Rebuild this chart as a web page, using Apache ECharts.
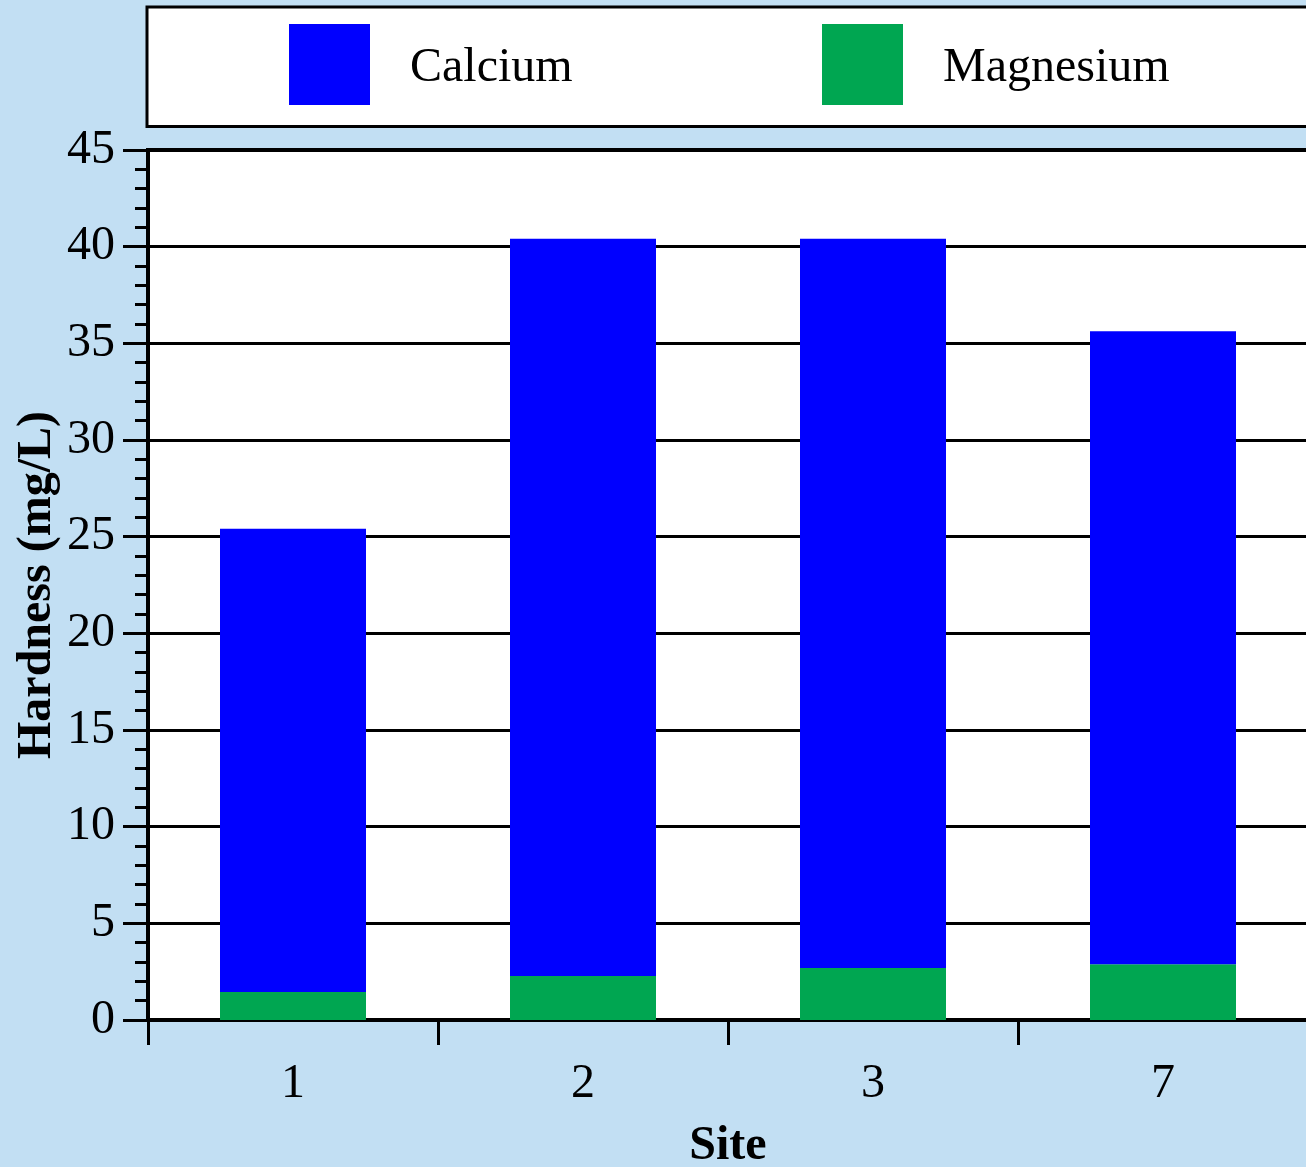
<!DOCTYPE html>
<html>
<head>
<meta charset="utf-8">
<script src="https://cdn.jsdelivr.net/npm/echarts@6/dist/echarts.min.js"></script>
<style>
html,body{margin:0;padding:0;background:#c2dff3;}
#chart{width:1306px;height:1167px;}
</style>
</head>
<body>
<div id="chart"></div>
<script>
const sites = ['1', '2', '3', '7'];
const calcium = [23.96, 38.14, 37.72, 32.73];
const magnesium = [1.45, 2.27, 2.69, 2.89];
const yMin = 0, yMax = 45, yInterval = 5;

const FONT = '"Liberation Serif", "Times New Roman", serif';
const legendText = {
  fontFamily: FONT, fontSize: 48, color: '#000',
  rich: { t: { fontFamily: FONT, fontSize: 48, color: '#000', padding: [8, 0, 0, 35] } }
};
const chart = echarts.init(document.getElementById('chart'));
chart.setOption({
  backgroundColor: '#c2dff3',
  animation: false,
  graphic: [{
    type: 'rect',
    z: 0,
    shape: { x: 147, y: 7, width: 1250, height: 119.5 },
    style: { fill: '#ffffff', stroke: '#000000', lineWidth: 3 }
  }],
  legend: [{
    data: ['Calcium'],
    left: 289, top: 24,
    itemWidth: 81, itemHeight: 81,
    icon: 'rect',
    padding: 0,
    formatter: '{t|{name}}',
    textStyle: legendText,
    z: 5
  }, {
    data: ['Magnesium'],
    left: 822, top: 24,
    itemWidth: 81, itemHeight: 81,
    icon: 'rect',
    padding: 0,
    formatter: '{t|{name}}',
    textStyle: legendText,
    z: 5
  }],
  grid: {
    left: 148, right: -2, top: 150, bottom: 147,
    outerBoundsMode: 'none',
    containLabel: false,
    show: true, backgroundColor: '#ffffff', borderColor: '#000', borderWidth: 4
  },
  xAxis: {
    type: 'category',
    data: sites,
    name: 'Site',
    nameLocation: 'middle',
    nameGap: 103,
    nameMoveOverlap: false,
    nameTextStyle: { fontFamily: FONT, fontSize: 48, fontWeight: 'bold', color: '#000' },
    axisLine: { lineStyle: { color: '#000', width: 4 } },
    axisTick: { show: true, length: 25, lineStyle: { color: '#000', width: 3 } },
    axisLabel: { fontFamily: FONT, fontSize: 48, color: '#000', margin: 40 },
    splitLine: { show: false }
  },
  yAxis: {
    type: 'value',
    min: yMin, max: yMax, interval: yInterval,
    name: 'Hardness (mg/L)',
    nameLocation: 'middle',
    nameGap: 86,
    nameMoveOverlap: false,
    nameTextStyle: { fontFamily: FONT, fontSize: 48, fontWeight: 'bold', color: '#000' },
    axisLine: { show: true, lineStyle: { color: '#000', width: 4 } },
    axisTick: { show: true, length: 25, lineStyle: { color: '#000', width: 3 } },
    minorTick: { show: true, splitNumber: 5, length: 13, lineStyle: { color: '#000', width: 3 } },
    axisLabel: { fontFamily: FONT, fontSize: 48, color: '#000', margin: 33 },
    splitLine: { show: true, lineStyle: { color: '#000', width: 3 } }
  },
  series: [{
    name: 'Magnesium',
    type: 'bar',
    stack: 'h',
    data: magnesium,
    barWidth: 146,
    itemStyle: { color: '#00a651' }
  }, {
    name: 'Calcium',
    type: 'bar',
    stack: 'h',
    data: calcium,
    barWidth: 146,
    itemStyle: { color: '#0000ff' }
  }]
});
</script>
</body>
</html>
